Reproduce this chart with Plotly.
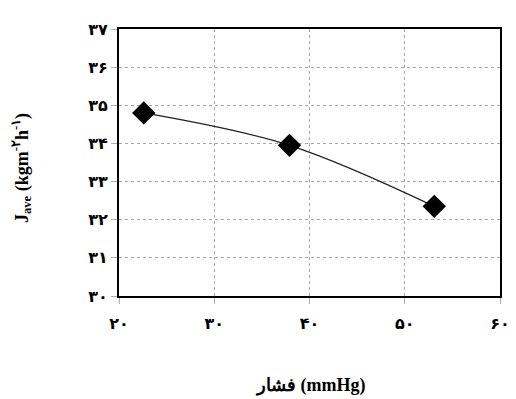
import plotly.graph_objects as go

pressure = [22.6, 37.9, 53.1]
flux = [34.8, 33.95, 32.35]

x_tick_vals = [20, 30, 40, 50, 60]
x_tick_text = ["۲۰", "۳۰", "۴۰", "۵۰", "۶۰"]
y_tick_vals = [30, 31, 32, 33, 34, 35, 36, 37]
y_tick_text = ["۳۰", "۳۱", "۳۲", "۳۳", "۳۴", "۳۵", "۳۶", "۳۷"]

x_title = "فشار (mmHg)"
y_title = "<b>J<sub>ave</sub> (kgm<sup>-۲</sup>h<sup>-۱</sup>)</b>"

# page body has an 8px default margin; compensate in figure size/margins
PL, PR, PT, PB = 119, 500, 29, 296
OFF = 8
W, H = 508, 391

fig = go.Figure()
fig.add_trace(go.Scatter(
    x=pressure, y=flux, mode="lines",
    line=dict(color="#222222", width=1.3, shape="spline", smoothing=1.0),
    showlegend=False, hoverinfo="skip",
))
fig.add_trace(go.Scatter(
    x=pressure, y=flux, mode="markers",
    marker=dict(symbol="diamond", size=18, color="black"),
    showlegend=False,
))

tickfont = dict(family="DejaVu Sans", size=16, color="black", weight="bold")
serif = "Times New Roman, Liberation Serif, DejaVu Serif, serif"

pw = PR - PL
ph = PB - PT

fig.update_layout(
    width=W, height=H,
    margin=dict(l=PL - OFF, r=W + OFF - PR, t=PT - OFF, b=H + OFF - PB),
    plot_bgcolor="white", paper_bgcolor="white",
    xaxis=dict(
        range=[20, 60], tickvals=x_tick_vals, ticktext=x_tick_text,
        showgrid=True, gridcolor="#a8a8a8", griddash="dot", gridwidth=1,
        showline=True, linecolor="black", linewidth=2, mirror=True,
        ticks="outside", ticklen=6, tickcolor="#b0b0b0", tickwidth=1,
        tickfont=tickfont, zeroline=False, ticklabelstandoff=6, automargin=False,
    ),
    yaxis=dict(
        range=[30, 37], tickvals=y_tick_vals, ticktext=y_tick_text,
        showgrid=True, gridcolor="#a8a8a8", griddash="dot", gridwidth=1,
        showline=True, linecolor="black", linewidth=2, mirror=True,
        ticks="outside", ticklen=6, tickcolor="#b0b0b0", tickwidth=1,
        tickfont=tickfont, zeroline=False, ticklabelstandoff=0, automargin=False,
    ),
    annotations=[
        dict(text="<b>" + x_title + "</b>", xref="paper", yref="paper",
             x=(310 - PL) / pw, y=-(385 - PB) / ph, showarrow=False,
             font=dict(family=serif, size=18, color="black"),
             xanchor="center", yanchor="middle"),
        dict(text=y_title, xref="paper", yref="paper",
             x=-(PL - 22) / pw, y=(PB - 168) / ph, showarrow=False, textangle=-90,
             font=dict(family=serif, size=18, color="black"),
             xanchor="center", yanchor="middle"),
    ],
)

fig.write_html("out.html")
